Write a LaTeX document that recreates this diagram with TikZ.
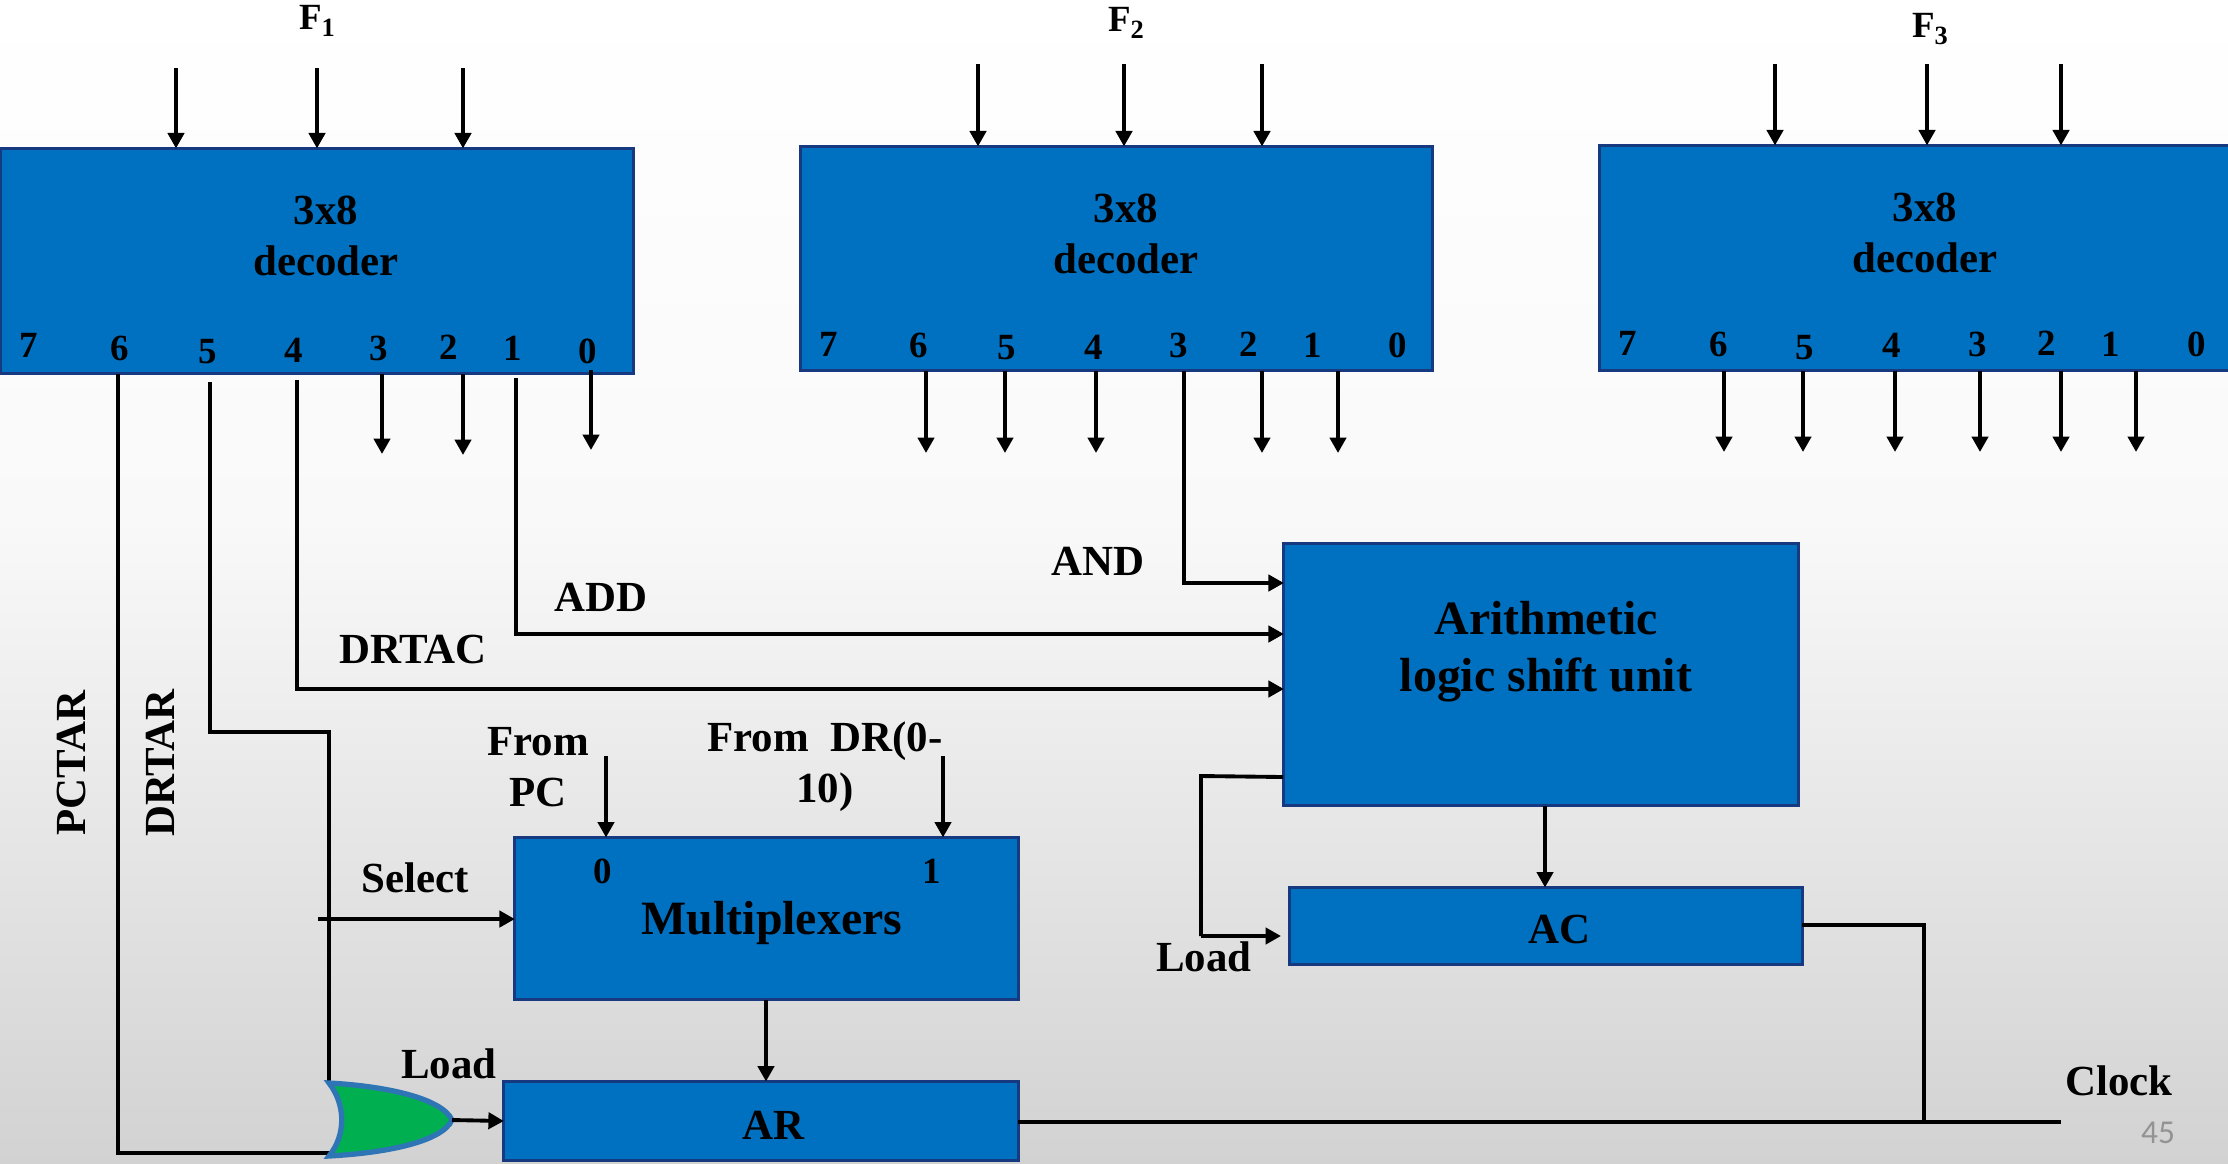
\documentclass[tikz,border=0pt]{standalone}
\usepackage{fontspec}
\setmainfont{Liberation Serif}
\newfontfamily\slidenum{Carlito}
\usetikzlibrary{arrows.meta}
\newcommand{\lowsub}[1]{\raisebox{-2.2pt}{\fontsize{7.5}{8}\selectfont #1}}
\begin{document}
\begin{tikzpicture}[x=0.01cm, y=-0.01cm, line join=miter,
    blockbox/.style={draw=boxedge, fill=boxblue, line width=0.9pt, outer sep=0pt, inner sep=0pt, align=center},
    wire/.style={line width=1.1pt},
    sig/.style={line width=1.1pt, -{Triangle[length=4.4pt, width=4.6pt]}},
    lbl/.style={font=\fontsize{12.2}{14.5}\selectfont\bfseries, inner sep=0pt, align=center},
    pin/.style={font=\fontsize{10.5}{12}\selectfont\bfseries, inner sep=0pt},
    bigtxt/.style={font=\fontsize{13.6}{16.2}\selectfont\bfseries}]
  \definecolor{boxblue}{HTML}{0070C0}
  \definecolor{boxedge}{HTML}{17397F}
  \definecolor{gateblue}{HTML}{2E75B6}
  \definecolor{gategreen}{HTML}{00B050}
  \definecolor{slidegrey}{HTML}{D2D2D2}
  \definecolor{slidepale}{HTML}{F9F9F9}
  \useasboundingbox (0,0) rectangle (2228,1163);
  \shade[top color=white, bottom color=slidepale] (0,0) rectangle (2228,520);
  \shade[top color=slidepale, bottom color=slidegrey] (0,520) rectangle (2228,1163);

  \node[blockbox, minimum width=6.32cm, minimum height=2.25cm] (dec1) at (317,261) {};
  \node[blockbox, minimum width=6.31cm, minimum height=2.24cm] (dec2) at (1116.5,258.5) {};
  \node[blockbox, minimum width=6.31cm, minimum height=2.25cm] (dec3) at (1915.5,258) {};
  \node[blockbox, minimum width=5.14cm, minimum height=2.62cm] (alu) at (1541,674.5) {};
  \node[blockbox, minimum width=5.12cm, minimum height=0.77cm] (ac) at (1546,926) {};
  \node[blockbox, minimum width=5.03cm, minimum height=1.62cm] (mux) at (766.5,918.5) {};
  \node[blockbox, minimum width=5.14cm, minimum height=0.79cm] (ar) at (761,1121) {};

  \node[lbl] (dec1txt) at (326,236) {3x8\\decoder};
  \node[lbl] (dec2txt) at (1126,234) {3x8\\decoder};
  \node[lbl] (dec3txt) at (1925,233) {3x8\\decoder};
  \node[lbl, bigtxt] (alutxt) at (1546,652) {Arithmetic\\logic shift unit};
  \node[lbl] (actxt) at (1559,929) {AC};
  \node[lbl, bigtxt] (muxtxt) at (772,923) {Multiplexers};
  \node[lbl] (artxt) at (773,1125) {AR};

  \node[pin] (f1) at (317,21) {F\lowsub{1}};
  \node[pin] (f2) at (1126,23) {F\lowsub{2}};
  \node[pin] (f3) at (1930,29) {F\lowsub{3}};

  \foreach \n/\x/\y in {7/29/345,6/120/348,5/208/352,4/294/350,3/379/348,2/449/347,1/513/348,0/588/351}
    \node[pin] (a\n) at (\x,\y) {\n};
  \foreach \n/\x/\y in {7/829/344,6/919/345,5/1007/348,4/1094/347,3/1179/345,2/1249/344,1/1313/345,0/1398/345}
    \node[pin] (b\n) at (\x,\y) {\n};
  \foreach \n/\x/\y in {7/1628/343,6/1719/344,5/1805/348,4/1892/345,3/1978/344,2/2047/343,1/2111/344,0/2197/344}
    \node[pin] (c\n) at (\x,\y) {\n};

  \foreach \x in {176,317,463}
    \draw[sig] (\x,68) -- (\x,0 |- dec1.north);
  \foreach \x in {978,1124,1262}
    \draw[sig] (\x,64) -- (\x,0 |- dec2.north);
  \foreach \x in {1775,1927,2061}
    \draw[sig] (\x,64) -- (\x,0 |- dec3.north);

  \draw[sig] (382,0 |- dec1.south) -- (382,454);
  \draw[sig] (463,0 |- dec1.south) -- (463,455);
  \draw[sig] (591,370) -- (591,450);
  \foreach \x in {926,1005,1096,1262,1338}
    \draw[sig] (\x,0 |- dec2.south) -- (\x,453);
  \foreach \x in {1724,1803,1895,1980,2061,2136}
    \draw[sig] (\x,0 |- dec3.south) -- (\x,452);

  \coordinate (gatetop) at (329,1083);
  \coordinate (gatebot) at (329,1156);
  \coordinate (gateout) at (452,1120);
  \draw[wire] (118,0 |- dec1.south) -- (118,1153) -- (330,1153);
  \draw[wire] (210,382) -- (210,732) -- (329,732) -- (329,1082);
  \draw[sig] (297,380) -- (297,689) -- (297,689 -| alu.west);
  \draw[sig] (516,378) -- (516,634) -- (516,634 -| alu.west);
  \draw[sig] (1184,0 |- dec2.south) -- (1184,583) -- (1184,583 -| alu.west);
  \draw[wire] (1283,777) -- (1201,776) -- (1201,936);
  \draw[sig] (1201,936) -- (1281,936);
  \draw[sig] (alu.south -| 1545,0) -- (ac.north -| 1545,0);
  \draw[sig] (mux.south -| 766,0) -- (ar.north -| 766,0);
  \coordinate (selstart) at (318,919);
  \draw[sig] (selstart) -- (selstart -| mux.west);
  \draw[sig] (606,756) -- (606,0 |- mux.north);
  \draw[sig] (943,756) -- (943,0 |- mux.north);

  \fill[gategreen, draw=gateblue, line width=1.5pt]
    (gatetop) .. controls (385,1086) and (442,1098) .. (gateout)
    .. controls (442,1142) and (385,1153) .. (gatebot)
    .. controls (346,1135) and (346,1105) .. (gatetop) -- cycle;
  \draw[sig] (gateout) -- (ar.west);

  \coordinate (clockend) at (2061,1122);
  \draw[wire] (ar.east |- clockend) -- (clockend);
  \draw[wire] (ac.east |- 0,925) -- (1924,925) -- (1924,1122);

  \node[lbl, rotate=90] (pctar) at (72,763) {PCTAR};
  \node[lbl, rotate=90] (drtar) at (160,763) {DRTAR};
  \node[lbl] (addl) at (601,597) {ADD};
  \node[lbl] (drtac) at (413,649) {DRTAC};
  \node[lbl] (andl) at (1098,561) {AND};
  \node[lbl] (frompc) at (538,767) {From\\PC};
  \node[lbl] (fromdr) at (825,767) {From~~DR(0-\\10)};
  \node[lbl] (sel) at (415,878) {Select};
  \node[lbl] (loadar) at (449,1064) {Load};
  \node[lbl] (loadac) at (1204,957) {Load};
  \node[lbl] (clk) at (2119,1081) {Clock};
  \node[pin] (mux0) at (603,871) {0};
  \node[pin] (mux1) at (932,871) {1};
  \node[inner sep=0pt, text=gray!85, font=\fontsize{9.5}{11}\slidenum] (pageno) at (2158,1133) {45};
\end{tikzpicture}
\end{document}
